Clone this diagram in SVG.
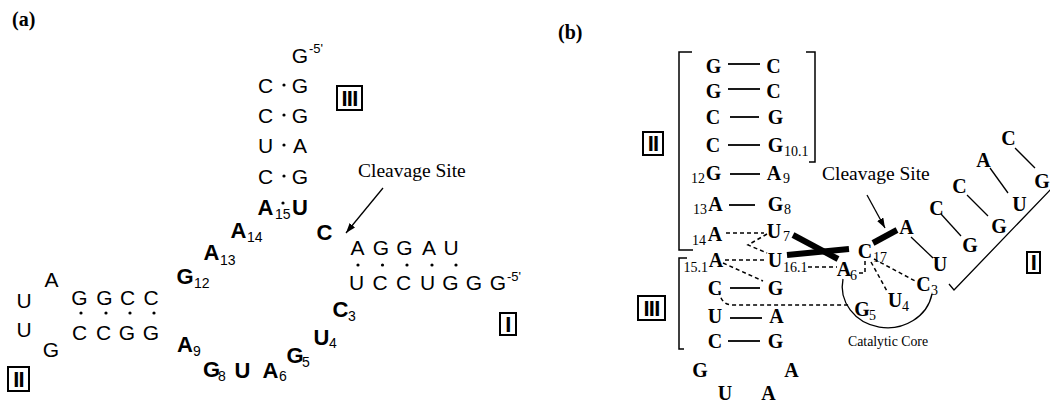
<svg xmlns="http://www.w3.org/2000/svg" width="1050" height="409" viewBox="0 0 1050 409">
<defs>
  <marker id="arrow" markerUnits="userSpaceOnUse" markerWidth="10" markerHeight="7" refX="10" refY="3.5" orient="auto">
    <path d="M0,0 L10,3.5 L0,7 z" fill="#000"/>
  </marker>
</defs>
<style>
  text{fill:#000}
  .sa{font-family:"Liberation Sans",Arial,sans-serif;font-size:21px;text-anchor:middle}
  .sb{font-family:"Liberation Sans",Arial,sans-serif;font-size:22px;font-weight:bold;text-anchor:middle}
  .ss{font-family:"Liberation Sans",Arial,sans-serif;font-size:14px}
  .sup{font-family:"Liberation Sans",Arial,sans-serif;font-size:13px}
  .tb{font-family:"Liberation Serif","Times New Roman",serif;font-size:20px;font-weight:bold;text-anchor:middle}
  .tn{font-family:"Liberation Serif","Times New Roman",serif;font-size:14px}
  .tne{font-family:"Liberation Serif","Times New Roman",serif;font-size:14px;text-anchor:end}
  .lbl{font-family:"Liberation Serif","Times New Roman",serif;font-size:19.5px}
  .core{font-family:"Liberation Serif","Times New Roman",serif;font-size:13.8px}
  .panel{font-family:"Liberation Serif","Times New Roman",serif;font-size:20px;font-weight:bold}
  .box rect{fill:#fff;stroke:#000;stroke-width:2}
  .box text{font-family:"Liberation Sans",Arial,sans-serif;font-weight:bold;font-size:22px;text-anchor:middle;letter-spacing:-0.8px}
  .pair{stroke:#000;stroke-width:1.8}
  .thin{stroke:#000;stroke-width:1.3;fill:none}
  .dash{stroke:#000;stroke-width:1.5;stroke-dasharray:4 3;fill:none}
  .thick{stroke:#000;stroke-width:6;fill:none}
  .dot{fill:#000}
</style>

<!-- ===================== panel (a) ===================== -->
<text class="panel" x="12" y="26">(a)</text>

<!-- stem III, (a) -->
<g id="a-stem3">
  <text class="sa" x="300" y="63">G</text>
  <text class="sup" x="309" y="53">-5'</text>
  <text class="sa" x="265.5" y="93">C</text><text class="sa" x="300" y="93">G</text>
  <text class="sa" x="265.5" y="123">C</text><text class="sa" x="300" y="123">G</text>
  <text class="sa" x="265.5" y="153">U</text><text class="sa" x="300" y="153">A</text>
  <text class="sa" x="265.5" y="184">C</text><text class="sa" x="300" y="184">G</text>
  <circle class="dot" cx="284" cy="85" r="1.6"/>
  <circle class="dot" cx="284" cy="115" r="1.6"/>
  <circle class="dot" cx="284" cy="145" r="1.6"/>
  <circle class="dot" cx="284" cy="176" r="1.6"/>
  <text class="sb" x="265.5" y="215">A</text><text class="ss" x="275" y="219">15</text>
  <circle class="dot" cx="283" cy="203" r="1.6"/>
  <text class="sb" x="300" y="215">U</text>
</g>

<!-- stem I, (a) -->
<g id="a-stem1">
  <text class="sb" x="324.5" y="240">C</text>
  <text class="sa" x="357.5" y="255">A</text>
  <text class="sa" x="381" y="255">G</text>
  <text class="sa" x="404.5" y="255">G</text>
  <text class="sa" x="429" y="255">A</text>
  <text class="sa" x="451" y="255">U</text>
  <circle class="dot" cx="358" cy="265" r="1.6"/>
  <circle class="dot" cx="382.5" cy="265" r="1.6"/>
  <circle class="dot" cx="407" cy="265" r="1.6"/>
  <circle class="dot" cx="432" cy="265" r="1.6"/>
  <circle class="dot" cx="456" cy="265" r="1.6"/>
  <text class="sa" x="356.5" y="290">U</text>
  <text class="sa" x="380" y="290">C</text>
  <text class="sa" x="403.5" y="290">C</text>
  <text class="sa" x="427.5" y="290">U</text>
  <text class="sa" x="450.5" y="290">G</text>
  <text class="sa" x="474" y="290">G</text>
  <text class="sa" x="498" y="290">G</text>
  <text class="sup" x="507" y="281">-5'</text>
</g>

<!-- stem-loop II, (a) -->
<g id="a-stem2">
  <text class="sa" x="79.5" y="305">G</text>
  <text class="sa" x="104.5" y="305">G</text>
  <text class="sa" x="127.5" y="305">C</text>
  <text class="sa" x="151" y="305">C</text>
  <circle class="dot" cx="81" cy="313" r="1.6"/>
  <circle class="dot" cx="106" cy="313" r="1.6"/>
  <circle class="dot" cx="130" cy="313" r="1.6"/>
  <circle class="dot" cx="154" cy="313" r="1.6"/>
  <text class="sa" x="79.5" y="340">C</text>
  <text class="sa" x="103.5" y="340">C</text>
  <text class="sa" x="127" y="340">G</text>
  <text class="sa" x="151" y="340">G</text>
  <text class="sa" x="51.5" y="287">A</text>
  <text class="sa" x="24" y="308">U</text>
  <text class="sa" x="24" y="337">U</text>
  <text class="sa" x="51" y="357">G</text>
</g>

<!-- conserved core, (a) -->
<g id="a-core">
  <text class="sb" x="238.5" y="238">A</text><text class="ss" x="247" y="242">14</text>
  <text class="sb" x="211.5" y="260">A</text><text class="ss" x="220" y="265">13</text>
  <text class="sb" x="185" y="284">G</text><text class="ss" x="194" y="288">12</text>
  <text class="sb" x="185" y="352">A</text><text class="ss" x="193" y="356">9</text>
  <text class="sb" x="211.5" y="377">G</text><text class="ss" x="218" y="381">8</text>
  <text class="sb" x="242.5" y="378">U</text>
  <text class="sb" x="270.5" y="378">A</text><text class="ss" x="279" y="381">6</text>
  <text class="sb" x="295" y="363">G</text><text class="ss" x="302" y="367">5</text>
  <text class="sb" x="321.5" y="345">U</text><text class="ss" x="329" y="348">4</text>
  <text class="sb" x="340.5" y="317">C</text><text class="ss" x="348" y="321">3</text>
</g>

<g id="a-label">
  <text class="lbl" x="358" y="177">Cleavage Site</text>
</g>

<g id="a-box3" class="box"><rect x="337" y="86" width="25" height="24"/><text x="349.5" y="106">III</text></g>
<g id="a-box1" class="box"><rect x="500" y="313" width="16" height="22"/><text x="508" y="332">I</text></g>
<g id="a-box2" class="box"><rect x="8" y="367" width="21" height="24"/><text x="18.5" y="387">II</text></g>

<!-- ===================== panel (b) ===================== -->
<text class="panel" x="558" y="39">(b)</text>

<!-- stem II, (b) -->
<g id="b-stem2">
  <text class="tb" x="713.5" y="73">G</text><text class="tb" x="773.5" y="73">C</text>
  <text class="tb" x="713.5" y="98">G</text><text class="tb" x="773.5" y="98">C</text>
  <text class="tb" x="713" y="124">C</text><text class="tb" x="775.5" y="124">G</text>
  <text class="tb" x="713" y="152">C</text><text class="tb" x="775.5" y="152">G</text><text class="tn" x="784" y="156">10.1</text>
  <text class="tne" x="705" y="183">12</text><text class="tb" x="713.5" y="180">G</text>
  <text class="tb" x="774" y="180">A</text><text class="tn" x="783" y="183">9</text>
  <text class="tne" x="707" y="214">13</text><text class="tb" x="715.5" y="211">A</text>
  <text class="tb" x="775.5" y="211">G</text><text class="tn" x="784" y="214">8</text>
  <text class="tne" x="706" y="245">14</text><text class="tb" x="715" y="241">A</text>
  <text class="tb" x="774" y="238">U</text><text class="tn" x="783" y="241">7</text>
</g>

<!-- stem III, (b) -->
<g id="b-stem3">
  <text class="tne" x="708" y="272">15.1</text><text class="tb" x="716" y="267">A</text>
  <text class="tb" x="775" y="267">U</text><text class="tn" x="783" y="272">16.1</text>
  <text class="tb" x="715" y="295">C</text><text class="tb" x="775.5" y="295">G</text>
  <text class="tb" x="715" y="323">U</text><text class="tb" x="776.5" y="323">A</text>
  <text class="tb" x="715" y="348">C</text><text class="tb" x="775.5" y="348">G</text>
  <text class="tb" x="700" y="377">G</text><text class="tb" x="791.5" y="377">A</text>
  <text class="tb" x="725" y="400">U</text><text class="tb" x="768.5" y="400">A</text>
</g>

<!-- catalytic core, (b) -->
<g id="b-core">
  <text class="tb" x="844" y="276">A</text><text class="tn" x="850" y="280">6</text>
  <text class="tb" x="865" y="258">C</text><text class="tn" x="873" y="262">17</text>
  <text class="tb" x="862" y="316">G</text><text class="tn" x="869" y="320">5</text>
  <text class="tb" x="895" y="307">U</text><text class="tn" x="902" y="311">4</text>
  <text class="tb" x="923.5" y="291">C</text><text class="tn" x="931" y="295">3</text>
  <text class="core" x="848" y="346">Catalytic Core</text>
</g>

<!-- stem I, (b) -->
<g id="b-stem1">
  <text class="tb" x="906.5" y="234">A</text>
  <text class="tb" x="940" y="271">U</text>
  <text class="tb" x="936.5" y="215">C</text><text class="tb" x="970" y="252">G</text>
  <text class="tb" x="959.5" y="193">C</text><text class="tb" x="999" y="233">G</text>
  <text class="tb" x="983.5" y="167">A</text><text class="tb" x="1019.5" y="211">U</text>
  <text class="tb" x="1008.5" y="145">C</text><text class="tb" x="1042" y="188">G</text>
</g>

<g id="b-label">
  <text class="lbl" x="822" y="180">Cleavage Site</text>
</g>

<g id="b-box2" class="box"><rect x="643" y="132" width="20" height="23"/><text x="653" y="151">II</text></g>
<g id="b-box3" class="box"><rect x="638" y="296" width="27" height="24"/><text x="651.5" y="316">III</text></g>
<g id="b-box1" class="box"><rect x="1027" y="252" width="13" height="21"/><text x="1033.5" y="270">I</text></g>

<!-- ===================== connectors ===================== -->
<g id="connectors">
  <!-- cleavage arrows -->
  <line class="thin" x1="383" y1="188" x2="346" y2="233" marker-end="url(#arrow)"/>
  <line class="thin" x1="867" y1="195" x2="885" y2="228" marker-end="url(#arrow)"/>

  <!-- helix brackets -->
  <path class="thin" style="stroke-width:1.5" d="M692 52 H679 V250 H693"/>
  <path class="thin" style="stroke-width:1.5" d="M806 52 H815 V162 H809"/>
  <path class="thin" style="stroke-width:1.5" d="M687 258 H679 V349 H684"/>

  <!-- Watson-Crick pairs, stem II -->
  <line class="pair" x1="728" y1="64" x2="760" y2="64"/>
  <line class="pair" x1="728" y1="89" x2="760" y2="89"/>
  <line class="pair" x1="730" y1="117" x2="759" y2="117"/>
  <line class="pair" x1="728" y1="145" x2="760" y2="145"/>
  <line class="pair" x1="730" y1="174" x2="760" y2="174"/>
  <line class="pair" x1="729" y1="205" x2="755" y2="205"/>
  <!-- Watson-Crick pairs, stem III -->
  <line class="pair" x1="730" y1="288" x2="760" y2="288"/>
  <line class="pair" x1="730" y1="318" x2="762" y2="318"/>
  <line class="pair" x1="728" y1="341" x2="760" y2="341"/>

  <!-- tertiary contacts -->
  <line class="dash" x1="726" y1="233" x2="764" y2="233"/>
  <line class="dash" x1="725" y1="260" x2="764" y2="260"/>
  <line class="dash" x1="723" y1="263" x2="763" y2="281"/>
  <polyline class="dash" points="767,234 748,245 767,253"/>
  <line class="dash" x1="808" y1="267" x2="837" y2="267"/>
  <path class="dash" d="M719 291 Q721 305 733 305 H850"/>
  <path class="dash" d="M865 261 V273 H859"/>
  <line class="dash" x1="874" y1="259" x2="917" y2="282"/>
  <line class="dash" x1="871" y1="262" x2="887" y2="291"/>

  <!-- stacking bars -->
  <line class="thick" x1="793" y1="235" x2="838" y2="259"/>
  <line class="thick" x1="787" y1="255" x2="849" y2="249"/>
  <line class="thick" x1="873" y1="243" x2="897" y2="230"/>

  <!-- catalytic core outline -->
  <path class="thin" d="M843 279 A45 41 0 1 0 932 294"/>

  <!-- stem I pairs and strand -->
  <line class="thin" x1="911" y1="237" x2="933" y2="258"/>
  <line class="thin" x1="941" y1="214" x2="961" y2="236"/>
  <line class="thin" x1="967" y1="195" x2="988" y2="216"/>
  <line class="thin" x1="990" y1="168" x2="1008" y2="193"/>
  <line class="thin" x1="1015" y1="148" x2="1035" y2="168"/>
  <polyline class="thin" points="949,284 954,290 1052,188"/>
</g>
</svg>
